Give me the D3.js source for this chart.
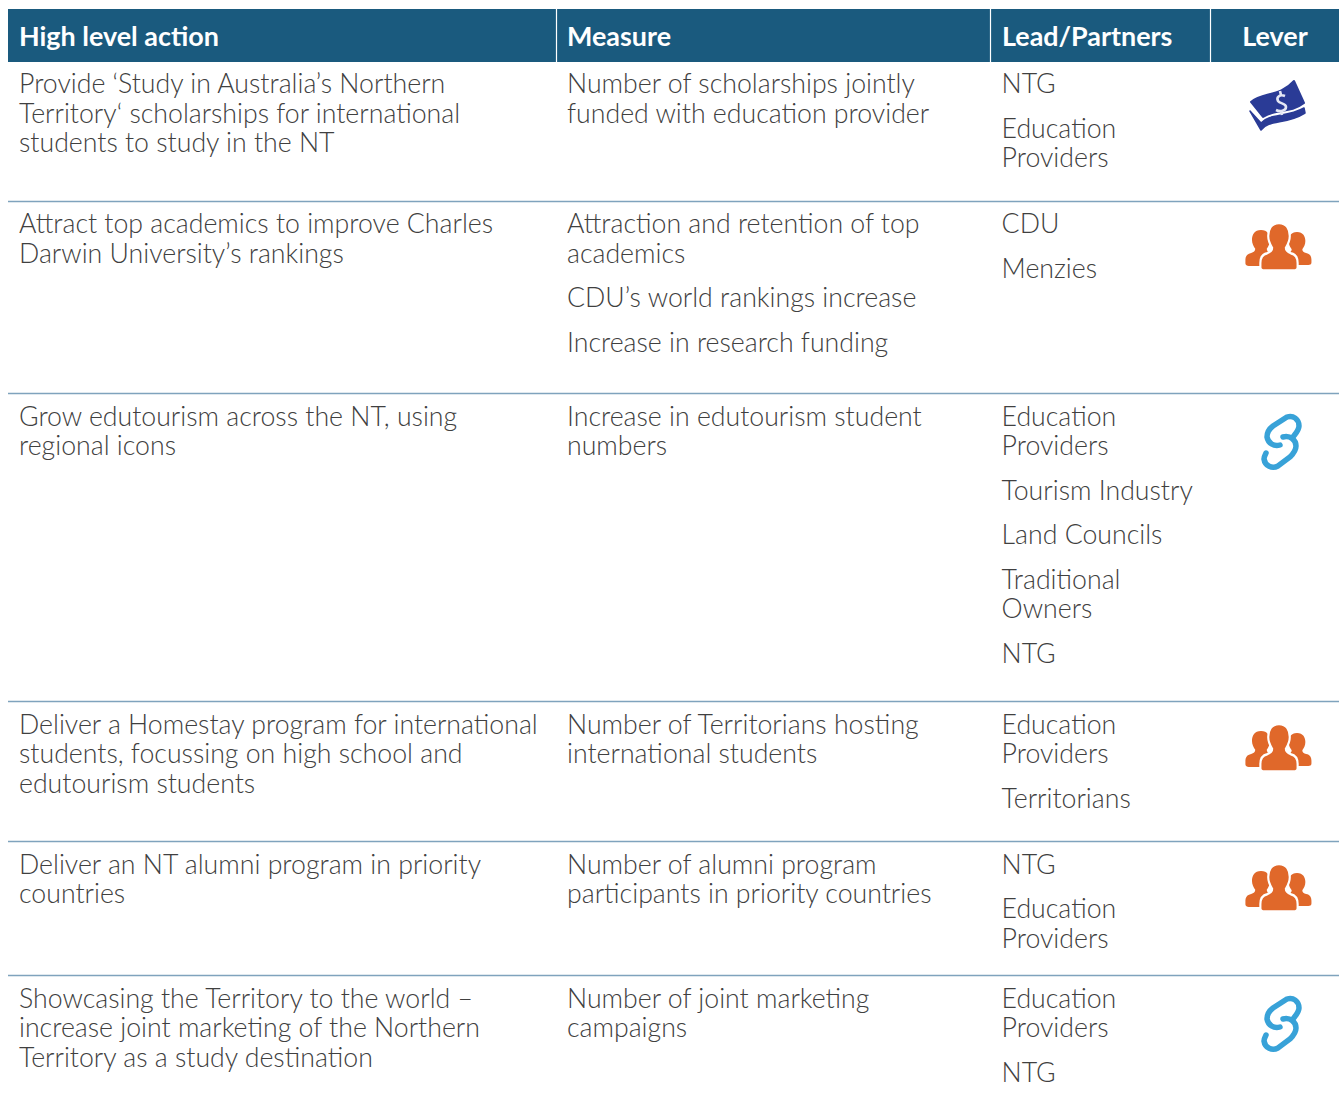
<!DOCTYPE html>
<html>
<head>
<meta charset="utf-8">
<title>Education actions table</title>
<script src="https://d3js.org/d3.v7.min.js"></script>
<style>
    body { margin: 0; background: white; }
    text { font-family: "Lato", sans-serif; }
    .head { font-weight: 700; font-size: 26.9px; fill: white; }
    .cell { font-weight: 300; font-size: 26.7px; fill: #404040; }
</style>
</head>
<body>
<script>
// table content, one array per column. each paragraph is a list of lines
var headers = ["High level action", "Measure", "Lead/Partners", "Lever"];

var actions = [
    [["Provide ‘Study in Australia’s Northern", "Territory‘ scholarships for international", "students to study in the NT"]],
    [["Attract top academics to improve Charles", "Darwin University’s rankings"]],
    [["Grow edutourism across the NT, using", "regional icons"]],
    [["Deliver a Homestay program for international", "students, focussing on high school and", "edutourism students"]],
    [["Deliver an NT alumni program in priority", "countries"]],
    [["Showcasing the Territory to the world –", "increase joint marketing of the Northern", "Territory as a study destination"]]
];

var measures = [
    [["Number of scholarships jointly", "funded with education provider"]],
    [["Attraction and retention of top", "academics"], ["CDU’s world rankings increase"], ["Increase in research funding"]],
    [["Increase in edutourism student", "numbers"]],
    [["Number of Territorians hosting", "international students"]],
    [["Number of alumni program", "participants in priority countries"]],
    [["Number of joint marketing", "campaigns"]]
];

var partners = [
    [["NTG"], ["Education", "Providers"]],
    [["CDU"], ["Menzies"]],
    [["Education", "Providers"], ["Tourism Industry"], ["Land Councils"], ["Traditional", "Owners"], ["NTG"]],
    [["Education", "Providers"], ["Territorians"]],
    [["NTG"], ["Education", "Providers"]],
    [["Education", "Providers"], ["NTG"]]
];

var levers = ["money", "people", "link", "people", "people", "link"];

// layout
var width = 1341, height = 1108;
var left = 8, right = 1339;
var headTop = 9, headBottom = 62;
var columnEdges = [8, 556, 990, 1210, 1339];
var rowEdges = [62, 201, 393, 701, 841, 975];
var firstBaselines = [93.4, 233, 425.6, 733.6, 873.6, 1007.6];
var iconCentres = [[1278, 105], [1278, 247], [1282, 441], [1278, 748], [1278, 888], [1282, 1023]];
var lineStep = 29.5, paraGap = 15;
var textInset = 11;

var svg = d3.select("body").append("svg")
    .attr("width", width)
    .attr("height", height)
    .style("display", "block");

// icons in the original are soft scans
var soft = svg.append("defs").append("filter").attr("id", "soft");
soft.append("feGaussianBlur").attr("stdDeviation", 0.5);

svg.append("rect")
    .attr("x", left).attr("y", headTop)
    .attr("width", right - left).attr("height", headBottom - headTop)
    .attr("fill", "#1a5a7e");

svg.selectAll(".sep")
    .data(columnEdges.slice(1, 4))
    .enter().append("line")
    .attr("class", "sep")
    .attr("x1", d => d + 0.5).attr("x2", d => d + 0.5)
    .attr("y1", headTop).attr("y2", headBottom)
    .attr("stroke", "white").attr("stroke-width", 1.2);

svg.selectAll(".rule")
    .data(rowEdges.slice(1))
    .enter().append("line")
    .attr("class", "rule")
    .attr("x1", left).attr("x2", right)
    .attr("y1", d => d + 0.5).attr("y2", d => d + 0.5)
    .attr("stroke", "#7fa3bd").attr("stroke-width", 1.4);

svg.selectAll(".head")
    .data(headers)
    .enter().append("text")
    .attr("class", "head")
    .attr("x", (d, i) => i == 3 ? 1275 : columnEdges[i] + textInset + (i == 2 ? 1 : 0))
    .attr("y", 46)
    .attr("text-anchor", (d, i) => i == 3 ? "middle" : "start")
    .text(d => d);

function drawColumn(rows, x) {
    rows.forEach(function(paras, r) {
        var y = firstBaselines[r];
        paras.forEach(function(lines) {
            lines.forEach(function(line, i) {
                svg.append("text")
                    .attr("class", "cell")
                    .attr("x", x)
                    .attr("y", y)
                    .text(line);
                y += lineStep;
            });
            y += paraGap;
        });
    });
}

drawColumn(actions, columnEdges[0] + textInset);
drawColumn(measures, columnEdges[1] + textInset);
drawColumn(partners, columnEdges[2] + textInset + 0.6);

// icons
function money(g) {
    var blue = "#2a3b96";
    g.append("path")
        .attr("fill", blue).attr("stroke", blue).attr("stroke-width", 1.5).attr("stroke-linejoin", "round")
        .attr("d", "M-28,6 L-17,25 C-9,14 8,20 27,8 L26,3 C8,13 -8,8 -17,18 Z");
    g.append("path")
        .attr("fill", blue).attr("stroke", blue).attr("stroke-width", 2).attr("stroke-linejoin", "round")
        .attr("d", "M-27,-3 C-16,-13 2,-8 16,-24 L26,-2 C12,9 -3,3 -15,12 Z");
    g.append("path")
        .attr("fill", "none").attr("stroke", "#e4e7f4").attr("stroke-width", 2.6)
        .attr("d", "M7,-9 C2,-11 -2,-8 0,-4 C2,-1 8,-2 8,2 C8,6 2,7 -2,5 M2,-14 L3,-10 M3,6 L4,10");
}

function people(g) {
    var orange = "#e0672a";
    function person(cx, top, sx, sy, stroke) {
        var p = g.append("g").attr("transform", "translate(" + cx + "," + top + ") scale(" + sx + "," + sy + ")");
        p.append("path")
            .attr("fill", orange)
            .attr("stroke", stroke ? "white" : "none")
            .attr("stroke-width", stroke ? 2.2 : 0)
            .attr("d", "M0,0 C8,0 11,6 11,12 C11,17 9,20 7,23 C7,26 9,27 12,28 C17,29 19,32 19,37 L19,41 C19,43 17,44 15,44 L-15,44 C-17,44 -19,43 -19,41 L-19,37 C-19,32 -17,29 -12,28 C-9,27 -7,26 -7,23 C-9,20 -11,17 -11,12 C-11,6 -8,0 0,0 Z");
    }
    person(-17, -17, 0.82, 0.82, false);
    person(19, -15, 0.76, 0.75, false);
    person(1, -24, 0.98, 1.08, true);
}

function link(g) {
    var p = g.append("g")
        .attr("fill", "none").attr("stroke", "#37a2d8")
        .attr("stroke-width", 5.5).attr("stroke-linecap", "round");
    p.append("path").attr("d", "M-2,4 C-8,6 -14,2 -15,-4 C-15,-9 -13,-12 -9,-15 L5,-24 C11,-26 17,-22 17,-15 C17,-11 14,-8 11,-4");
    p.append("path").attr("d", "M1,-4 C8,-6 14,-1 14,5 C14,9 12,12 8,16 L-4,25 C-10,28 -17,25 -18,18 C-18,16 -17,14 -16,12");
}

var iconDraw = {money: money, people: people, link: link};

levers.forEach(function(name, i) {
    var g = svg.append("g")
        .attr("class", "icon")
        .attr("filter", "url(#soft)")
        .attr("transform", "translate(" + iconCentres[i][0] + "," + iconCentres[i][1] + ")");
    iconDraw[name](g);
});
</script>
</body>
</html>
